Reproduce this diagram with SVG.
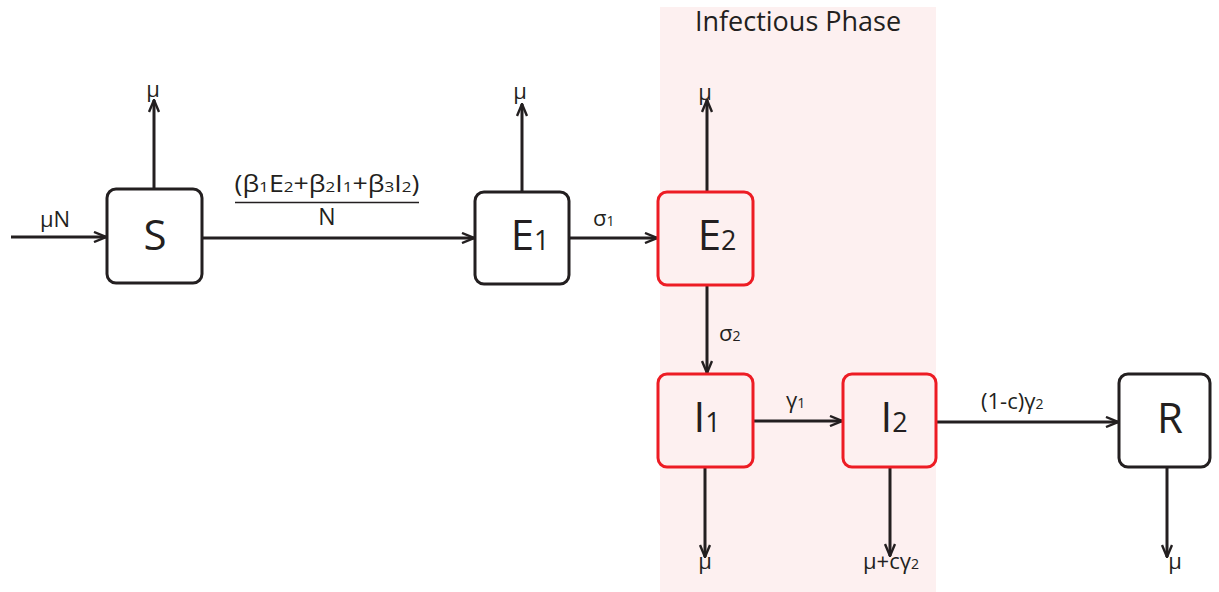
<svg xmlns="http://www.w3.org/2000/svg" width="1219" height="592" viewBox="0 0 1219 592">
<style>
text{font-family:"Open Sans","Liberation Sans",sans-serif;fill:#231f20}
.box{fill:#fff;stroke:#231f20;stroke-width:3}
.red{fill:#fdf0f0;stroke:#ed1c24;stroke-width:3}
.big{font-size:42px;text-anchor:middle}
.lbl{font-size:22px}
.sub{font-size:0.64em}
.edge{stroke:#231f20;stroke-width:3;fill:none;marker-end:url(#arr)}
</style>
<defs>
<marker id="arr" markerUnits="userSpaceOnUse" viewBox="0 0 14 12" markerWidth="14" markerHeight="12" refX="13" refY="6" orient="auto">
<path d="M1,1 L13,6 L1,11" fill="none" stroke="#231f20" stroke-width="2.4" stroke-linejoin="miter"/>
</marker>
</defs>
<rect x="0" y="0" width="1219" height="592" fill="#fff"/>
<g id="phase">
<rect x="660" y="7" width="276" height="585" fill="#fdf0f0"/>
<text x="798" y="31" font-size="27" text-anchor="middle">Infectious Phase</text>
</g>
<g id="connectors">
<path class="edge" d="M11,237 L106,237"/>
<path class="edge" d="M154,189 L154,100"/>
<path class="edge" d="M202,238 L474,238"/>
<path class="edge" d="M522,192 L522,104"/>
<path class="edge" d="M569,238 L657,238"/>
<path class="edge" d="M707,192 L707,100"/>
<path class="edge" d="M707,285 L707,373"/>
<path class="edge" d="M705,467 L705,557"/>
<path class="edge" d="M753,421 L842,421"/>
<path class="edge" d="M890,467 L890,556"/>
<path class="edge" d="M936,422 L1118,422"/>
<path class="edge" d="M1167,467 L1167,557"/>
<line x1="235" y1="202.5" x2="419" y2="202.5" stroke="#231f20" stroke-width="1.4"/>
<text class="lbl" x="40" y="227">μN</text>
<text class="lbl" x="153" y="97" text-anchor="middle">μ</text>
<text class="lbl" x="520" y="99" text-anchor="middle">μ</text>
<text class="lbl" x="705" y="100" text-anchor="middle">μ</text>
<text x="327" y="192" font-size="23" text-anchor="middle" textLength="185" lengthAdjust="spacingAndGlyphs">(β<tspan class="sub">1</tspan>E<tspan class="sub">2</tspan>+β<tspan class="sub">2</tspan>I<tspan class="sub">1</tspan>+β<tspan class="sub">3</tspan>I<tspan class="sub">2</tspan>)</text>
<text x="327" y="225" font-size="23" text-anchor="middle">N</text>
<text class="lbl" x="593" y="226">σ<tspan class="sub">1</tspan></text>
<text class="lbl" x="719" y="341">σ<tspan class="sub">2</tspan></text>
<text class="lbl" x="786" y="408">γ<tspan class="sub">1</tspan></text>
<text class="lbl" x="981" y="409">(1-c)γ<tspan class="sub">2</tspan></text>
<text class="lbl" x="891" y="569" text-anchor="middle">μ+cγ<tspan class="sub">2</tspan></text>
<text class="lbl" x="705" y="569" text-anchor="middle">μ</text>
<text class="lbl" x="1175" y="569" text-anchor="middle">μ</text>
</g>
<g id="S">
<rect class="box" x="107" y="189" width="95" height="94" rx="9"/>
<text class="big" x="155" y="250">S</text>
</g>
<g id="E1">
<rect class="box" x="475" y="192" width="94" height="92" rx="9"/>
<text class="big" x="530" y="250">E<tspan class="sub">1</tspan></text>
</g>
<g id="E2">
<rect class="red" x="658" y="192" width="95" height="93" rx="9"/>
<text class="big" x="717" y="250">E<tspan class="sub">2</tspan></text>
</g>
<g id="I1">
<rect class="red" x="658" y="374" width="95" height="93" rx="9"/>
<text class="big" x="707" y="432">I<tspan class="sub">1</tspan></text>
</g>
<g id="I2">
<rect class="red" x="843" y="374" width="93" height="93" rx="9"/>
<text class="big" x="894" y="432">I<tspan class="sub">2</tspan></text>
</g>
<g id="R">
<rect class="box" x="1119" y="374" width="91" height="93" rx="9"/>
<text class="big" x="1170" y="433">R</text>
</g>
</svg>
